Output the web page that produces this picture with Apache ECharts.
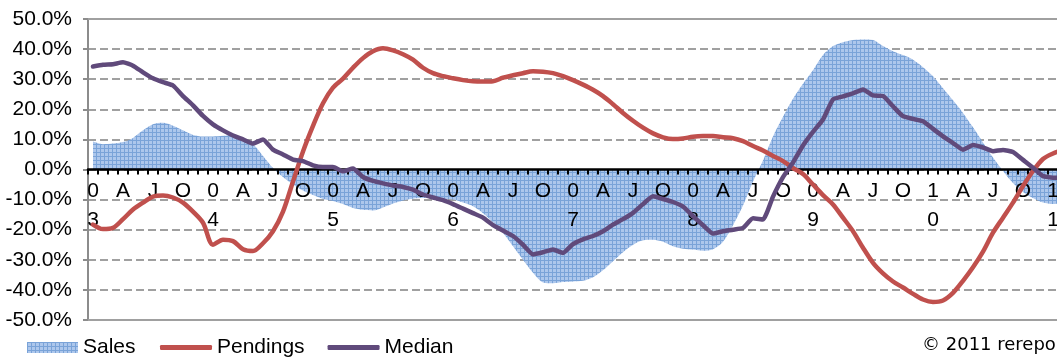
<!DOCTYPE html>
<html>
<head>
<meta charset="utf-8">
<script src="https://cdn.jsdelivr.net/npm/echarts@6/dist/echarts.min.js"></script>
<style>
html,body{margin:0;padding:0;background:#fff;}
#chart{width:1057px;height:358px;}
</style>
</head>
<body>
<div id="chart"></div>
<script>
// Monthly categories Jan 2003 .. Feb 2011
var years = ['03','04','05','06','07','08','09','10','11'];
var monthNames = ['Jan','Feb','Mar','Apr','May','Jun','Jul','Aug','Sep','Oct','Nov','Dec'];
var quarterLetters = {3:'A', 6:'J', 9:'O'};
var categories = [];
var tickLabels = [];
for (var y = 0; y < years.length; y++) {
  for (var m = 0; m < 12; m++) {
    if (categories.length >= 98) break;
    categories.push(monthNames[m] + ' ' + years[y]);
    tickLabels.push(m === 0 ? years[y].charAt(0) + '\n' + years[y].charAt(1) : (quarterLetters[m] || ''));
  }
}

var yTicks = [-50, -40, -30, -20, -10, 0, 10, 20, 30, 40, 50];

var sales = [
  9.3, 8.4, 8.6, 9.1, 10.5, 13, 15, 15.5, 14.5, 13, 11.5, 11,
  11, 11.2, 11.5, 10.5, 8.5, 4.5, 0.5, -2.5, -5, -7, -8.5, -9.8,
  -10.5, -11.5, -12.8, -13.4, -13.6, -12.6, -11.3, -10.3, -9.7, -9.5, -9.5, -9.8,
  -10, -11, -12.2, -14.5, -17.5, -21, -25.5, -30, -34.3, -37.5, -37.8, -37.4,
  -37.2, -37, -35.8, -33.5, -30.5, -27.5, -25, -23.5, -23.3, -24, -25.5, -26.3,
  -26.6, -27, -26.5, -24, -18.5, -12, -4, 3, 11, 17.5, 23.5, 28.5,
  33, 38, 41, 42.3, 43, 43.2, 43, 41, 39.3, 38, 36.5, 34,
  31, 27, 23, 18.8, 14, 9, 4, -0.5, -4.5, -7.5, -9.5, -11,
  -11.5, -11
];

var pendings = [
  -18.3, -19.8, -19.4, -16.5, -13.3, -11, -9, -8.6, -9.3, -11, -14, -17.7,
  -25, -23.3, -23.8, -26.5, -27.1, -24.5, -20.5, -14, -4, 6, 14.5, 22,
  27.2, 30.2, 33.8, 37, 39.3, 40.3, 39.6, 38.3, 36.5, 33.8, 32, 31,
  30.3, 29.7, 29.3, 29.2, 29.3, 30.5, 31.3, 32, 32.6, 32.5, 32, 31,
  29.7, 28.2, 26.5, 24.4, 21.7, 18.8, 16.2, 13.9, 12, 10.7, 10.1, 10.3,
  10.9, 11.1, 11.1, 10.7, 10.4, 9.4, 7.8, 6.3, 4.5, 2.8, 0.5, -1.5,
  -5, -8.5, -11.6, -16, -20.5, -26, -31, -34.5, -37.2, -39.2, -41.3, -43.2,
  -44, -43.5, -41, -37, -32.5, -27.3, -21, -16, -11, -5.5, -0.5, 3.5,
  5.3, 6.5
];

var median = [
  34.2, 34.8, 35, 35.6, 34.5, 32.3, 30.3, 29, 27.9, 24.4, 21.3, 17.8,
  15, 13, 11.3, 10, 8.6, 10, 6.6, 5, 3.3, 2.8, 1.4, 0.8,
  0.8, -0.6, 0.3, -2.5, -3.8, -4.6, -5.3, -5.8, -6.7, -8.3, -9.3, -10.2,
  -11.5, -13, -14.5, -16, -18.5, -20.3, -22.1, -25, -28.2, -27.5, -26.6, -27.7,
  -24.8, -23.2, -22.1, -20.5, -18.3, -16.5, -14.4, -11.5, -8.9, -9.8, -10.8, -12.3,
  -15.5, -18.5, -21.3, -20.5, -20, -19.4, -16.2, -16.6, -9, -2.5, 2.3, 8,
  12.5, 16.6, 23.3, 24.3, 25.3, 26.6, 24.6, 24.4, 21, 17.7, 16.8, 16,
  13.5, 11, 8.8, 6.6, 8.1, 7.3, 6.1, 6.5, 5.8, 3.2, 0.6, -2.2,
  -2.7, -2.7
];

// hatched fill pattern for Sales
var pc = document.createElement('canvas');
pc.width = 4; pc.height = 4;
var ctx = pc.getContext('2d');
ctx.fillStyle = '#adc7ec';
ctx.fillRect(0, 0, 4, 4);
ctx.fillStyle = '#7aa3d8';
ctx.fillRect(0, 0, 4, 1);
ctx.fillRect(0, 0, 1, 4);
var hatch = { image: pc, repeat: 'repeat' };

var FONT = 'Liberation Sans';
var GRID_TOP = 19, GRID_H = 301;
var chart = echarts.init(document.getElementById('chart'));
chart.setOption({
  animation: false,
  backgroundColor: '#ffffff',
  grid: { left: 88, top: GRID_TOP, width: 980, height: GRID_H, containLabel: false, outerBoundsMode: 'none' },
  legend: [
    {
      data: [{ name: 'Sales', itemStyle: { color: hatch } }],
      left: 27, top: 337, padding: 0,
      icon: 'rect', itemWidth: 51, itemHeight: 11,
      textStyle: { fontFamily: FONT, fontSize: 21, color: '#000' }
    },
    {
      data: ['Pendings', 'Median'],
      left: 160, top: 337, padding: 0,
      icon: 'roundRect', itemWidth: 52, itemHeight: 5, itemGap: 23,
      textStyle: { fontFamily: FONT, fontSize: 21, color: '#000' }
    }
  ],
  graphic: [{
    type: 'text', left: 922, top: 336,
    style: { text: '\u00a9 2011 rereport.com', font: '18px "DejaVu Sans"', fill: '#000' }
  }],
  xAxis: {
    type: 'category',
    data: categories,
    boundaryGap: true,
    position: 'bottom',
    offset: -GRID_H / 2,
    z: 2,
    axisLine: { onZero: false, lineStyle: { color: '#000', width: 2.5 } },
    axisTick: { show: true, interval: 0, length: 5, lineStyle: { color: '#000', width: 2 } },
    axisLabel: {
      interval: 0, margin: 7, fontFamily: FONT, fontSize: 21, lineHeight: 29, color: '#000',
      hideOverlap: false,
      formatter: function (v, i) { return tickLabels[i]; }
    },
    splitLine: { show: false }
  },
  yAxis: {
    type: 'value', min: -50, max: 50, interval: 10,
    z: 0,
    axisLine: { show: true, lineStyle: { color: '#8c8c8c', width: 2 } },
    axisTick: { show: true, length: 5, lineStyle: { color: '#8c8c8c', width: 2 } },
    axisLabel: {
      margin: 16, fontFamily: FONT, fontSize: 21, color: '#000',
      formatter: function (v) { return yTicks.indexOf(v) >= 0 ? v.toFixed(1) + '%' : ''; }
    },
    splitLine: { show: true, lineStyle: { color: '#a0a0a0', width: 2, type: [8, 4] } }
  },
  series: [
    {
      name: 'Sales', type: 'line', data: sales, smooth: 0.3,
      symbol: 'none', showSymbol: false,
      lineStyle: { width: 0, color: '#7aa3d8' },
      itemStyle: { color: '#7aa3d8' },
      areaStyle: { color: hatch, opacity: 1, origin: 'auto' },
      z: 1,
      markLine: {
        silent: true, symbol: 'none', label: { show: false },
        lineStyle: { color: '#a0a0a0', width: 2, type: 'solid' },
        data: [{ yAxis: 50 }, { yAxis: -50 }]
      }
    },
    {
      name: 'Pendings', type: 'line', data: pendings, smooth: 0.3,
      symbol: 'none', showSymbol: false,
      lineStyle: { width: 4.5, color: '#c0504d', cap: 'round', join: 'round' },
      itemStyle: { color: '#c0504d' },
      z: 3
    },
    {
      name: 'Median', type: 'line', data: median, smooth: 0.15,
      symbol: 'none', showSymbol: false,
      lineStyle: { width: 4.5, color: '#604a7b', cap: 'round', join: 'round' },
      itemStyle: { color: '#604a7b' },
      z: 4
    }
  ]
});
</script>
</body>
</html>
